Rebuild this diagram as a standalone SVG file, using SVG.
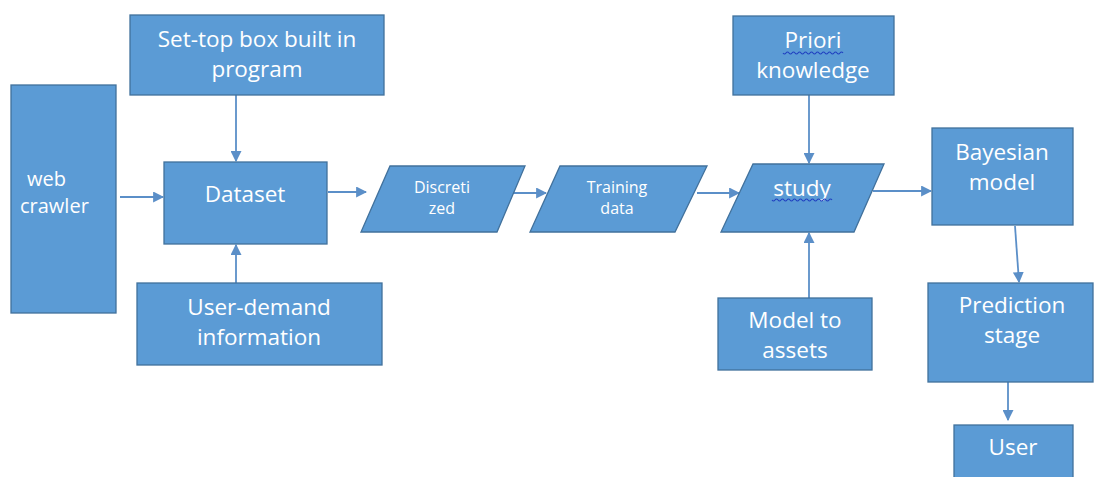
<svg xmlns="http://www.w3.org/2000/svg" width="1096" height="477" viewBox="0 0 1096 477">
<style>
.n{fill:#5B9BD5;stroke:#41719C;stroke-width:1.3}
.t{fill:#fff;font-family:"Open Sans","Noto Sans",sans-serif;font-size:22.5px;text-anchor:middle}
.s{font-size:16px}
.c{stroke:#5B8FC8;stroke-width:1.8;fill:none;marker-end:url(#a)}
.w{stroke:#2040C0;stroke-width:1.1;fill:none}
</style>
<defs>
<marker id="a" viewBox="0 0 10 10" refX="9" refY="5" markerWidth="11" markerHeight="11" markerUnits="userSpaceOnUse" orient="auto"><path d="M0,0 L10,5 L0,10 z" fill="#5B8FC8"/></marker>
</defs>
<rect width="1096" height="477" fill="#fff"/>
<g id="connectors">
<line class="c" x1="120" y1="197" x2="163" y2="197"/>
<line class="c" x1="236" y1="95" x2="236" y2="161"/>
<line class="c" x1="236" y1="283" x2="236" y2="245"/>
<line class="c" x1="328" y1="192" x2="366" y2="192"/>
<line class="c" x1="513" y1="193" x2="546" y2="193"/>
<line class="c" x1="697" y1="193" x2="739" y2="193"/>
<line class="c" x1="809" y1="95" x2="809" y2="163"/>
<line class="c" x1="809" y1="298" x2="809" y2="233"/>
<line class="c" x1="873" y1="191" x2="931" y2="191"/>
<line class="c" x1="1015" y1="226" x2="1019" y2="282"/>
<line class="c" x1="1008" y1="382" x2="1008" y2="420"/>
</g>
<g id="web-crawler"><rect class="n" x="11" y="85" width="105" height="228"/><text class="t" x="27" y="186" style="text-anchor:start;font-size:20px">web</text><text class="t" x="20" y="213" style="text-anchor:start;font-size:20px">crawler</text></g>
<g id="set-top"><rect class="n" x="130" y="15" width="254" height="80"/><text class="t" x="257" y="47">Set-top box built in</text><text class="t" x="257" y="77">program</text></g>
<g id="dataset"><rect class="n" x="164" y="162" width="163" height="82"/><text class="t" x="245" y="202">Dataset</text></g>
<g id="user-demand"><rect class="n" x="137" y="283" width="245" height="82"/><text class="t" x="259" y="315">User-demand</text><text class="t" x="259" y="345">information</text></g>
<g id="discretized"><polygon class="n" points="390,166 525,166 497,232 361,232"/><text class="t s" x="442" y="193">Discreti</text><text class="t s" x="442" y="214">zed</text></g>
<g id="training"><polygon class="n" points="560,166 707,166 675,232 530,232"/><text class="t s" x="617" y="193">Training</text><text class="t s" x="617" y="214">data</text></g>
<g id="priori"><rect class="n" x="733" y="16" width="161" height="79"/><text class="t" x="813" y="48">Priori</text><text class="t" x="813" y="78">knowledge</text><path class="w" d="M783,53 q1.5,2 3,0 t3,0 t3,0 t3,0 t3,0 t3,0 t3,0 t3,0 t3,0 t3,0 t3,0 t3,0 t3,0 t3,0 t3,0 t3,0 t3,0 t3,0 t3,0 t3,0"/></g>
<g id="study"><polygon class="n" points="753,164 884,164 854,232 721,232"/><text class="t" x="802" y="196">study</text><path class="w" d="M772,200 q1.5,2 3,0 t3,0 t3,0 t3,0 t3,0 t3,0 t3,0 t3,0 t3,0 t3,0 t3,0 t3,0 t3,0 t3,0 t3,0 t3,0 t3,0 t3,0 t3,0 t3,0"/></g>
<g id="model-assets"><rect class="n" x="718" y="298" width="154" height="72"/><text class="t" x="795" y="328">Model to</text><text class="t" x="795" y="358">assets</text></g>
<g id="bayesian"><rect class="n" x="932" y="128" width="141" height="97"/><text class="t" x="1002" y="160">Bayesian</text><text class="t" x="1002" y="190">model</text></g>
<g id="prediction"><rect class="n" x="928" y="283" width="165" height="99"/><text class="t" x="1012" y="313">Prediction</text><text class="t" x="1012" y="343">stage</text></g>
<g id="user"><rect class="n" x="954" y="425" width="119" height="60"/><text class="t" x="1013" y="455">User</text></g>
</svg>
